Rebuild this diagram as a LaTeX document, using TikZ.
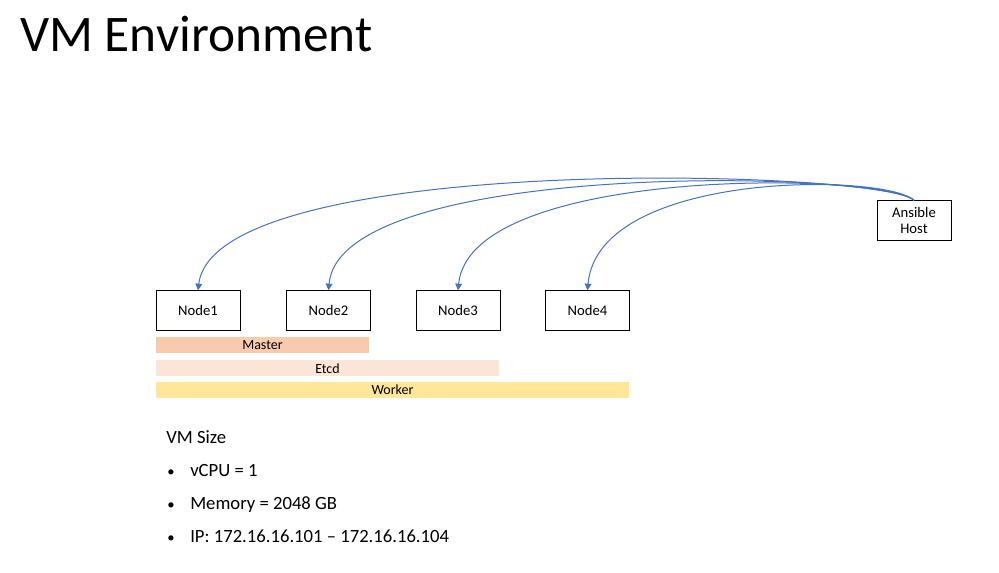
\documentclass[tikz,border=0pt]{standalone}
\usepackage{fontspec}
\setmainfont{Carlito}
\usetikzlibrary{arrows.meta}
\definecolor{linkblue}{HTML}{4472C4}
\definecolor{masterc}{HTML}{F8CBAD}
\definecolor{etcdc}{HTML}{FBE5D6}
\definecolor{workerc}{HTML}{FFE699}
\begin{document}
\begin{tikzpicture}
  [x=0.75pt, y=-0.75pt,
   vm/.style={draw, line width=0.75pt, minimum width=63pt, minimum height=29.5pt, inner sep=0pt, font=\fontsize{11}{13}\selectfont},
   host/.style={draw, line width=0.75pt, minimum width=55.5pt, minimum height=29.5pt, inner sep=0pt, align=center, font=\fontsize{11}{12.5}\selectfont},
   role/.style={inner sep=0pt, minimum height=12pt, font=\fontsize{10.5}{12}\selectfont},
   link/.style={linkblue, line width=0.75pt, -{Triangle[width=5pt,length=5pt]}},
   item/.style={anchor=base west, inner sep=0pt, font=\fontsize{14}{16}\selectfont}]
  \useasboundingbox (0,0) rectangle (999,573);

  \node[anchor=base west, inner sep=0pt, font=\fontsize{38.5}{44}\selectfont] (title) at (20,52) {VM Environment};

  \node[vm] (node1) at (198,310.5) {Node1};
  \node[vm] (node2) at (328.5,310.5) {Node2};
  \node[vm] (node3) at (458,310.5) {Node3};
  \node[vm] (node4) at (587.5,310.5) {Node4};
  \node[host] (ansible) at (914,220.5) {Ansible\\Host};

  \node[role, fill=masterc, minimum width=160pt] (master) at (262.5,345) {Master};
  \node[role, fill=etcdc, minimum width=257pt] (etcd) at (327.5,368.5) {Etcd};
  \node[role, fill=workerc, minimum width=355pt] (worker) at (392.5,390) {Worker};

  \draw[link] (ansible.north) .. controls (885,170) and (215,150) .. (node1.north);
  \draw[link] (ansible.north) .. controls (885,171) and (340,158) .. (node2.north);
  \draw[link] (ansible.north) .. controls (885,172) and (470,165) .. (node3.north);
  \draw[link] (ansible.north) .. controls (885,173) and (598,170) .. (node4.north);

  \node[item] (size) at (166,443) {VM Size};
  \node[item] (cpu) at (190,476) {vCPU = 1};
  \node[item] (mem) at (190,509) {Memory = 2048 GB};
  \node[item] (ip) at (190,542) {IP: 172.16.16.101 – 172.16.16.104};
  \foreach \y/\n in {476/b1, 509/b2, 542/b3}
    \node[item, font=\fontsize{11}{13}\selectfont] (\n) at (167,\y) {•};
\end{tikzpicture}
\end{document}
